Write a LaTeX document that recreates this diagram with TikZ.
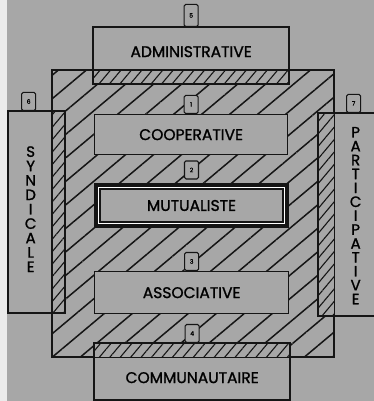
\documentclass[tikz,border=0pt]{standalone}
\usepackage{fontspec}
\setmainfont{Poppins}[FakeBold=1.3]
\usetikzlibrary{positioning,patterns.meta}
\definecolor{paper}{HTML}{A7A7A7}
\definecolor{ink}{HTML}{151515}
\tikzset{
  panel/.style={draw=ink,fill=paper,line width=1.3pt,inner sep=0pt,
    font=\fontsize{15.5}{15.5}\selectfont},
  lbl/.style={inner sep=0pt,font=\fontsize{15.5}{15.5}\selectfont},
  tab/.style={draw=ink,fill=paper,line width=1.1pt,inner sep=0pt,
    minimum width=14pt,minimum height=18pt,rounded corners=1.5pt,
    font=\fontsize{6}{6}\selectfont},
  coarse/.style={pattern={Lines[angle=40,distance=18pt,line width=1.5pt]},pattern color=ink},
  fine/.style={pattern={Lines[angle=50,distance=8pt,line width=1.1pt]},pattern color=ink},
  vlabel/.style={align=center,font=\fontsize{15}{14.4}\selectfont}
}
\begin{document}
\begin{tikzpicture}[x=1pt,y=-1pt]
\useasboundingbox (0,0) rectangle (374,401);
\fill[paper] (0,0) rectangle (374,401);
\fill[black!8] (0,0) rectangle (7,401);
\clip (0,0) rectangle (374,401);
% hatched frame
\node[draw=ink,line width=1.3pt,coarse,minimum width=281pt,minimum height=286pt,anchor=north west] (frame) at (52,70) {};
% outer panels
\node[panel,minimum width=195pt,minimum height=56pt,anchor=north west,
  label={[lbl,yshift=4pt]center:ADMINISTRATIVE}] (admin) at (93,27) {};
\node[panel,minimum width=195pt,minimum height=56pt,anchor=north west,
  label={[lbl,yshift=-6pt]center:COMMUNAUTAIRE}] (comm) at (94,343) {};
\node[panel,minimum width=56pt,minimum height=201pt,anchor=north west] (syn) at (8,111) {};
\node[panel,minimum width=74pt,minimum height=202pt,anchor=north west] (part) at (318,113) {};
\node[vlabel] (synlbl) at ([xshift=-6pt,yshift=3pt]syn.center) {S\\Y\\N\\D\\I\\C\\A\\L\\E};
\node[vlabel,font=\fontsize{15}{13.9}\selectfont] (partlbl) at ([yshift=-1pt]part.center) {P\\A\\R\\T\\I\\C\\I\\P\\A\\T\\I\\V\\E};
% overlaps
\fill[fine] (admin.south west) rectangle (frame.north -| admin.east);
\fill[fine] (comm.north west) rectangle (frame.south -| comm.east);
\fill[fine] (syn.north east) rectangle (frame.west |- syn.south);
\fill[fine] (part.north west) rectangle (frame.east |- part.south);
\draw[ink,line width=1.3pt] (frame.north west) rectangle (frame.south east);
\foreach \b in {admin,comm,syn,part}
  \draw[ink,line width=1.3pt] (\b.north west) rectangle (\b.south east);
% inner panels
\node[panel,minimum width=193pt,minimum height=40pt,anchor=north west] (coop) at (94,114) {COOPERATIVE};
\node[panel,line width=7pt,minimum width=188pt,minimum height=38pt] (mutu) at (191.5,205.5) {MUTUALISTE};
\draw[white,line width=0.8pt] ([shift={(4.3pt,-4.3pt)}]mutu.north west) rectangle ([shift={(-4.3pt,4.3pt)}]mutu.south east);
\node[panel,minimum width=194pt,minimum height=42pt,anchor=north west] (asso) at (94,271) {ASSOCIATIVE};
% number tabs
\node[tab,minimum height=22pt,above=0pt of admin] (t5) {5};
\node[tab,above=0pt of coop] (t1) {1};
\node[tab,above=0pt of mutu.north,yshift=3.5pt] (t2) {2};
\node[tab,above=0pt of asso] (t3) {3};
\node[tab,above=0pt of comm] (t4) {4};
\node[tab,above=0pt of syn,xshift=-8pt] (t6) {6};
\node[tab,above=0pt of part,xshift=-2pt] (t7) {7};
\end{tikzpicture}
\end{document}
